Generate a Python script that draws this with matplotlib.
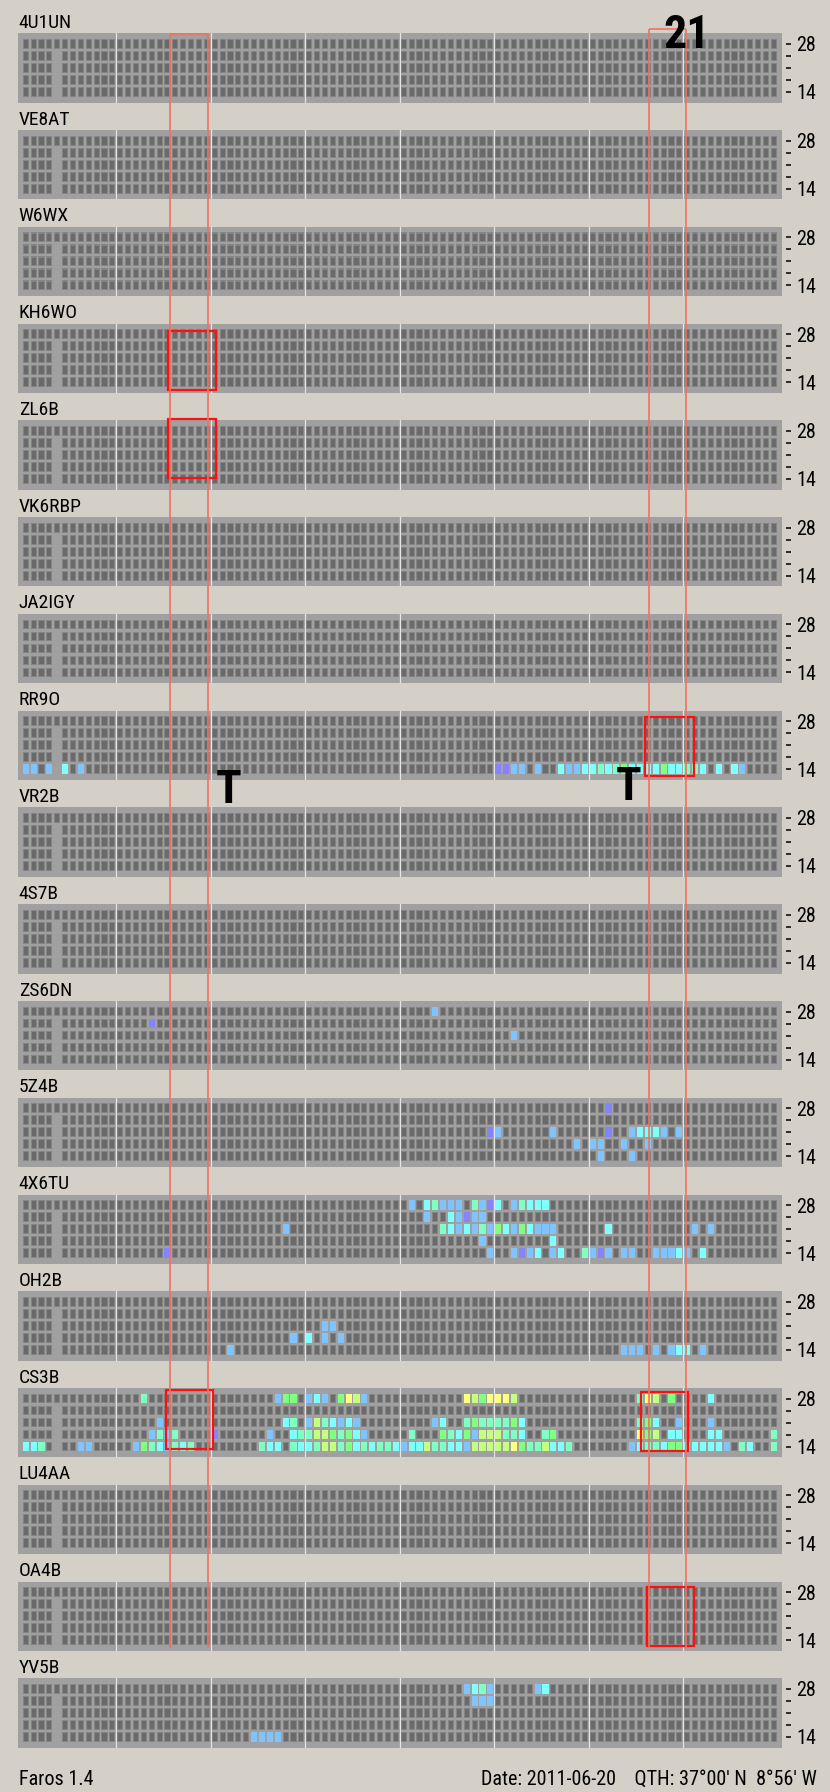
import numpy as np
import matplotlib
matplotlib.use("Agg")
import matplotlib.pyplot as plt
from matplotlib.patches import Rectangle

# narrow face first, plain ones as fallback
plt.rcParams["font.family"] = ["Liberation Sans Narrow", "Roboto Condensed",
                               "Liberation Sans", "DejaVu Sans"]

# beacon stations, top to bottom
STATIONS = ["4U1UN", "VE8AT", "W6WX", "KH6WO", "ZL6B", "VK6RBP", "JA2IGY", "RR9O",
            "VR2B", "4S7B", "ZS6DN", "5Z4B", "4X6TU", "OH2B", "CS3B", "LU4AA",
            "OA4B", "YV5B"]
BANDS = [14, 18, 21, 24, 28]   # grid rows, bottom to top
N_SLOTS = 96                   # 15 minute slots over the day
IDLE_SLOT = 4                  # slot not monitored on 14-24 MHz

# spots heard per band: "<slot><level>", level letters map to LEVEL_COLORS
RR9O = {14: "0b 1b 3b 5c 7b 60v 61v 62b 63b 65b 68c 69b 70b 71c 72c 73m 74c 75m "
            "76g 77c 78c 79c 80c 81g 82c 83c 84m 85m 86c 88c 90c 91b"}
ZS6DN = {28: "52b", 24: "16v", 21: "62b"}
S5Z4B = {28: "74v",
         21: "59v 60b 67b 74v 77b 78c 79c 80c 81b 83b",
         18: "70b 72b 73b 76b 79b",
         14: "73b 77b"}
S4X6TU = {28: "49b 51c 52m 53b 54b 55b 57m 58b 59v 60c 62b 63m 64c 65c 66c",
          24: "51b 54c 55b 56v 57b 58b",
          21: "33b 53m 54c 55b 56c 57b 58m 59b 60g 61c 62b 63g 64c 65b 66b 67b 74c 85b 87b",
          18: "58b 67c",
          14: "18v 59b 62b 63v 64b 65c 67b 68c 71m 72b 73v 74b 76b 77b 80b 81b 82b 83c 84b 86c"}
OH2B = {21: "38b 39b",
        18: "34b 36c 38b 40b",
        14: "26b 76b 77b 78b 80b 82b 83c 84c 86b"}
CS3B = {28: "15m 32b 33g 34g 36b 37c 38b 40g 41y 42l 43b 56y 57l 58g 59y 60y 61y 62l "
            "78m 79y 80l 82g 87c",
        21: "17b 33c 34m 36b 37l 38m 39c 40b 41c 42b 52b 53c 56m 57g 58m 59m 60m 61m "
            "62g 63c 78m 79g 80c 83b 87b",
        18: "16b 17m 18b 19m 24v 31b 34c 35m 36m 37l 38l 39g 40m 41g 42c 43b 49m 53g 54m "
            "55c 56g 57b 58l 59l 60l 61m 62m 63c 66m 67g 78y 79g 80l 82c 83c 87c 88c 95m",
        14: "0c 1c 2m 7b 8b 14b 15g 16m 17c 18b 19m 20c 21m 30m 31c 32c 34m 35c 36c 37m "
            "38l 39l 40m 41g 42c 43m 44c 45m 46m 47c 48b 49c 50c 51l 52m 53m 54c 55c 56b "
            "57l 58l 59l 60l 61l 62y 63g 64m 65m 66l 67c 68c 69m 77b 78c 79m 80m 81c 82g "
            "83g 84c 85c 86c 87c 88c 89b 91m 92c 95m"}
YV5B = {28: "56b 57c 58m 59b 65b 66c",
        24: "57b 58b 59b",
        14: "29b 30b 31b 32b"}

SPOTS = {"RR9O": RR9O, "ZS6DN": ZS6DN, "5Z4B": S5Z4B, "4X6TU": S4X6TU,
         "OH2B": OH2B, "CS3B": CS3B, "YV5B": YV5B}

LEVEL_COLORS = {"v": "#8484ff", "b": "#80c4ff", "c": "#80ffff", "m": "#80ffc4",
                "g": "#80ff80", "l": "#c4ff80", "y": "#ffff80"}

# marked slot windows (station, slot from, slot to, row from, row to)
BOXES = [("KH6WO", 18.6, 24.7, -0.15, 4.77),
         ("ZL6B", 18.6, 24.7, 0.57, 5.49),
         ("RR9O", 79.2, 85.3, -0.07, 4.88),
         ("CS3B", 18.3, 24.25, 0.27, 5.21),
         ("CS3B", 78.6, 84.6, 0.12, 5.04),
         ("OA4B", 79.45, 85.4, 0.0, 4.9)]

BG = "#d4d0c8"
PANEL_BG = "#a0a0a0"
CELL = "#6a6a6a"
CELL_RIM = "#848484"
SEP = "#e4e4e4"
GUIDE = "#f07262"
MARK = "#ff1010"

W, H = 830, 1792
PANEL_L, PANEL_R = 18.3, 781.7
TOP0, STEP, PANEL_H = 33.4, 96.76, 69.3
XLIM = (-0.44, 96.5)
YLIM = (-0.4, 5.375)
CW, CH = 0.78, 0.82            # outer cell size in slot / row units
RIM_X, RIM_Y = 0.127, 0.085    # one pixel of rim each way


def parse(spec):
    out = []
    for tok in spec.split():
        out.append((int(tok[:-1]), tok[-1]))
    return out


def cells(ax, slots, row, color, w, h, z):
    ax.bar(np.asarray(slots) + 0.5, h, width=w, bottom=row + 0.5 - h / 2,
           color=color, linewidth=0, antialiased=False, zorder=z)


fig = plt.figure(figsize=(W / 100, H / 100), dpi=100, facecolor=BG)

axes = {}
for i, name in enumerate(STATIONS):
    top = TOP0 + i * STEP
    ax = fig.add_axes([PANEL_L / W, 1 - (top + PANEL_H) / H,
                       (PANEL_R - PANEL_L) / W, PANEL_H / H])
    axes.setdefault(name, ax)
    ax.set_xlim(*XLIM)
    ax.set_ylim(*YLIM)
    ax.set_facecolor(PANEL_BG)
    for sp in ax.spines.values():
        sp.set_visible(False)
    ax.spines["right"].set_position(("outward", 3.3))

    # 3 hour separators
    for k in range(12, N_SLOTS, 12):
        ax.axvline(k, color=SEP, lw=0.9, zorder=1)

    # empty grid: light rim, dark face
    for r, band in enumerate(BANDS):
        slots = np.arange(N_SLOTS)
        if band != 28:
            slots = slots[slots != IDLE_SLOT]
        cells(ax, slots, r, CELL_RIM, CW, CH, 2)
        cells(ax, slots, r, CELL, CW - 2 * RIM_X, CH - 2 * RIM_Y, 2.5)

    # heard beacons
    for band, spec in SPOTS.get(name, {}).items():
        r = BANDS.index(band)
        for slot, lvl in parse(spec):
            cells(ax, [slot], r, LEVEL_COLORS[lvl], CW, CH, 3)

    ax.set_xticks([])
    ax.yaxis.tick_right()
    ax.set_yticks(np.arange(len(BANDS)) + 0.5)
    ax.set_yticklabels(["14", "", "", "", "28"])
    ax.tick_params(axis="y", right=True, left=False, length=3.8, width=1.1,
                   color="black", pad=3.4, labelsize=14.5, direction="out")

    ax.text(-0.4, 5.83, name, fontsize=14, ha="left", va="baseline", clip_on=False)

for name, x0, x1, y0, y1 in BOXES:
    axes[name].add_patch(Rectangle((x0, y0), x1 - x0, y1 - y0, fill=False,
                                   edgecolor=MARK, lw=1.6, zorder=6, clip_on=False))

# overlay in slot units across, pixel rows down
ov = fig.add_axes([PANEL_L / W, 0, (PANEL_R - PANEL_L) / W, 1], zorder=20)
ov.set_xlim(*XLIM)
ov.set_ylim(H, 0)
ov.axis("off")
ov.patch.set_alpha(0)

for x0, x1, y0 in [(18.84, 23.65, 34), (79.6, 84.39, 29)]:
    ov.vlines([x0, x1], y0, 1648, color=GUIDE, lw=1.2)
    ov.hlines(y0, x0, x1, color=GUIDE, lw=1.2)

ov.text(84.45, 48.3, "21", fontsize=33, fontweight="bold", ha="center", va="baseline")
ov.text(26.3, 803.3, "T", fontsize=34, fontweight="bold", ha="center", va="baseline")
ov.text(77.1, 800.0, "T", fontsize=34, fontweight="bold", ha="center", va="baseline")

fig.text(19.3 / W, 1 - 1785 / H, "Faros 1.4", fontsize=14.5, ha="left", va="baseline")
fig.text(817 / W, 1 - 1785 / H, "Date: 2011-06-20    QTH: 37°00' N  8°56' W",
         fontsize=14.5, ha="right", va="baseline")

fig.savefig("out.png", dpi=100, facecolor=BG)
